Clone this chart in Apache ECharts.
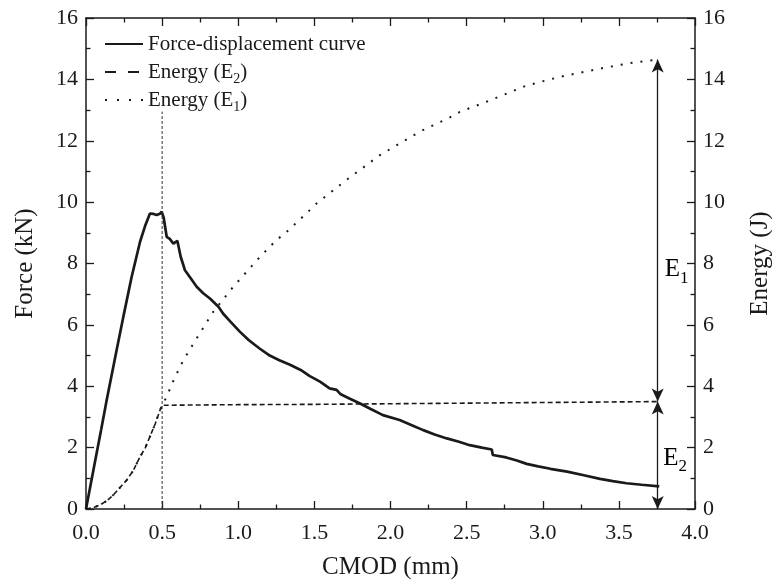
<!DOCTYPE html>
<html>
<head>
<meta charset="utf-8">
<script src="https://cdn.jsdelivr.net/npm/echarts@6/dist/echarts.min.js"></script>
<style>
  html, body { margin: 0; padding: 0; background: #fff; }
  #chart { width: 772px; height: 580px; }
</style>
</head>
<body>
<div id="chart"></div>
<script>
// CMOD (mm) vs force (kN)
const force = [
  [0, 0], [0.05, 1.3], [0.1, 2.6], [0.136, 3.55], [0.2, 5.15], [0.245, 6.26],
  [0.3, 7.57], [0.355, 8.71], [0.39, 9.25], [0.42, 9.63], [0.44, 9.62],
  [0.464, 9.58], [0.485, 9.62], [0.497, 9.69], [0.51, 9.5], [0.53, 8.87],
  [0.55, 8.8], [0.563, 8.82], [0.574, 8.65], [0.6, 8.74], [0.622, 8.22],
  [0.65, 7.78], [0.69, 7.5], [0.727, 7.24], [0.77, 7.03], [0.814, 6.86],
  [0.87, 6.59], [0.9, 6.37], [0.95, 6.1], [1.01, 5.78], [1.07, 5.5],
  [1.14, 5.23], [1.2, 5.02], [1.27, 4.85], [1.34, 4.7], [1.41, 4.53],
  [1.47, 4.33], [1.537, 4.15], [1.6, 3.93], [1.63, 3.9], [1.646, 3.88],
  [1.67, 3.75], [1.73, 3.6], [1.8, 3.44], [1.87, 3.26], [1.95, 3.06],
  [2.06, 2.9], [2.14, 2.73], [2.215, 2.57], [2.29, 2.43], [2.37, 2.3],
  [2.45, 2.19], [2.52, 2.08], [2.6, 2.0], [2.665, 1.94], [2.672, 1.76],
  [2.68, 1.73], [2.76, 1.68], [2.83, 1.58], [2.894, 1.47], [2.97, 1.39],
  [3.05, 1.31], [3.16, 1.22], [3.27, 1.1], [3.376, 0.98], [3.46, 0.91],
  [3.55, 0.84], [3.65, 0.79], [3.765, 0.74]
];

// energy up to the peak, shared by both energy curves
const energyPrePeak = [
  [0, 0], [0.05, 0.05], [0.092, 0.13], [0.14, 0.28], [0.18, 0.46],
  [0.22, 0.68], [0.267, 0.94], [0.31, 1.25], [0.355, 1.7], [0.39, 2.0],
  [0.42, 2.36], [0.455, 2.78], [0.486, 3.22], [0.5, 3.38]
];
const energyE2Tail = [
  [1.0, 3.4], [1.5, 3.41], [2.0, 3.43], [2.5, 3.45], [3.0, 3.47],
  [3.5, 3.49], [3.765, 3.5]
];
const energyE1Tail = [
  [0.53, 3.66], [0.58, 4.25], [0.64, 4.85], [0.727, 5.56], [0.836, 6.43],
  [0.967, 7.24], [1.143, 8.22], [1.25, 8.76], [1.318, 9.03], [1.47, 9.74],
  [1.515, 9.96], [1.71, 10.72], [1.93, 11.53], [2.06, 11.91], [2.19, 12.29],
  [2.39, 12.76], [2.456, 12.94], [2.63, 13.27], [2.895, 13.8], [3.11, 14.08],
  [3.376, 14.35], [3.595, 14.55], [3.765, 14.65]
];
const energyE2 = energyPrePeak.concat(energyE2Tail);
const energyE1 = energyPrePeak.concat(energyE1Tail);

const peakCmod = 0.5;
const peakLineTop = 12.95;

const xTickLabels = ['0.0', '0.5', '1.0', '1.5', '2.0', '2.5', '3.0', '3.5', '4.0'];
const yTickLabels = ['0', '2', '4', '6', '8', '10', '12', '14', '16'];

const FONT = 'Liberation Serif';
const INK = '#1a1a1a';

const endX = energyE1[energyE1.length - 1][0];
const e1End = energyE1[energyE1.length - 1][1];
const e2End = energyE2[energyE2.length - 1][1];

const chart = echarts.init(document.getElementById('chart'));

// fresh objects per axis, ticks pointing into the plot
function frame() {
  return {
    axisLine: { show: true, onZero: false, lineStyle: { color: INK, width: 1.5 } },
    axisTick: { show: true, inside: true, length: 8, lineStyle: { color: INK, width: 1.3 } },
    minorTick: { show: true, splitNumber: 2, length: 4.5, lineStyle: { color: INK, width: 1.3 } },
    splitLine: { show: false }
  };
}
function xAxisBase(extra) {
  return Object.assign({ type: 'value', min: 0, max: 4, interval: 0.5 }, frame(), extra);
}
function yAxisBase(extra) {
  return Object.assign({
    type: 'value', min: 0, max: 16, interval: 2,
    axisLabel: {
      fontFamily: FONT, fontSize: 22, color: INK, margin: 8,
      formatter: (v) => yTickLabels[Math.round(v / 2)]
    },
    nameLocation: 'middle',
    nameTextStyle: { fontFamily: FONT, fontSize: 25, color: INK }
  }, frame(), extra);
}

const subRich = {
  t: { fontFamily: FONT, fontSize: 21, color: INK, lineHeight: 28 },
  s: { fontFamily: FONT, fontSize: 14, color: INK, lineHeight: 14, verticalAlign: 'bottom' }
};

const option = {
  animation: false,
  grid: { left: 86, right: 77, top: 18, bottom: 71, containLabel: false, outerBoundsMode: 'none' },
  legend: {
    orient: 'vertical',
    left: 99, top: 25,
    itemWidth: 38, itemHeight: 14, itemGap: 0,
    itemStyle: { opacity: 0 },
    data: [
      { name: 'Force-displacement curve' },
      { name: 'Energy (E2)', lineStyle: { type: [11, 12] } },
      { name: 'Energy (E1)', lineStyle: { type: [2, 10] } }
    ],
    formatter: (name) => {
      const m = name.match(/^(.*\(E)(\d)(\))$/);
      return m ? '{t|' + m[1] + '}{s|' + m[2] + '}{t|' + m[3] + '}' : '{t|' + name + '}';
    },
    textStyle: { fontFamily: FONT, fontSize: 21, color: INK, lineHeight: 28, rich: subRich }
  },
  xAxis: [
    xAxisBase({
      name: 'CMOD (mm)', nameLocation: 'middle', nameGap: 46,
      nameTextStyle: { fontFamily: FONT, fontSize: 25, color: INK },
      axisLabel: {
        fontFamily: FONT, fontSize: 22, color: INK, margin: 13,
        formatter: (v) => xTickLabels[Math.round(v / 0.5)]
      }
    }),
    xAxisBase({ position: 'top', axisLabel: { show: false } })
  ],
  yAxis: [
    yAxisBase({ name: 'Force (kN)', nameGap: 48, position: 'left' }),
    yAxisBase({ name: 'Energy (J)', nameGap: 53, position: 'right' })
  ],
  series: [
    {
      name: 'Force-displacement curve', type: 'line', data: force,
      symbol: 'none', yAxisIndex: 0,
      lineStyle: { color: INK, width: 2.7 }, itemStyle: { color: INK }
    },
    {
      name: 'Energy (E2)', type: 'line', data: energyE2,
      symbol: 'none', yAxisIndex: 1,
      lineStyle: { color: INK, width: 1.6, type: [5, 3] }, itemStyle: { color: INK }
    },
    {
      name: 'Energy (E1)', type: 'line', data: energyE1,
      symbol: 'none', yAxisIndex: 1,
      lineStyle: { color: INK, width: 2, type: [2, 8] }, itemStyle: { color: INK },
      markLine: {
        silent: true,
        symbol: ['arrow', 'arrow'],
        symbolSize: [9, 13],
        label: { show: false },
        lineStyle: { color: INK, width: 1.3, type: 'solid' },
        data: [
          [{ coord: [endX - 0.01, e2End] }, { coord: [endX - 0.01, e1End] }],
          [{ coord: [endX - 0.01, 0] }, { coord: [endX - 0.01, e2End] }]
        ]
      }
    },
    {
      name: 'peak', type: 'line', yAxisIndex: 0, symbol: 'none',
      data: [[peakCmod, 0], [peakCmod, peakLineTop]],
      lineStyle: { color: '#333', width: 1, type: [3, 2] }
    },
    {
      name: 'labels', type: 'scatter', yAxisIndex: 1, symbolSize: 0,
      itemStyle: { opacity: 1 }, clip: false,
      data: [[3.88, 7.8, '1'], [3.87, 1.66, '2']],
      label: {
        show: true, position: 'inside', opacity: 1,
        formatter: (p) => '{e|E}{n|' + p.data[2] + '}',
        rich: {
          e: { fontFamily: FONT, fontSize: 25, color: '#000', lineHeight: 34 },
          n: { fontFamily: FONT, fontSize: 17, color: '#000', lineHeight: 17, verticalAlign: 'bottom' }
        }
      }
    }
  ]
};

chart.setOption(option);
</script>
</body>
</html>
